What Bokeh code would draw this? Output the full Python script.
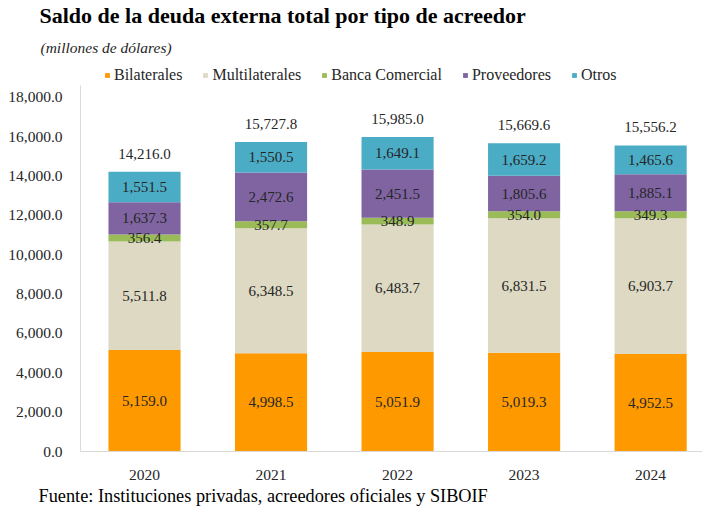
from bokeh.plotting import figure
from bokeh.models import (ColumnDataSource, Range1d, FixedTicker, NumeralTickFormatter,
                          Title, Legend, LegendItem, LabelSet)
from bokeh.embed import file_html
from bokeh.resources import INLINE

years = ["2020", "2021", "2022", "2023", "2024"]
bilaterales = [5159.0, 4998.5, 5051.9, 5019.3, 4952.5]
multilaterales = [5511.8, 6348.5, 6483.7, 6831.5, 6903.7]
banca = [356.4, 357.7, 348.9, 354.0, 349.3]
proveedores = [1637.3, 2472.6, 2451.5, 1805.6, 1885.1]
otros = [1551.5, 1550.5, 1649.1, 1659.2, 1465.6]
totales = [14216.0, 15727.8, 15985.0, 15669.6, 15556.2]
series_names = ["Bilaterales", "Multilaterales", "Banca Comercial", "Proveedores", "Otros"]
colors = ["#FF9900", "#DDD9C3", "#9BBB59", "#8064A2", "#4BACC6"]
y_ticks = [0, 2000, 4000, 6000, 8000, 10000, 12000, 14000, 16000, 18000]

FONT = "Liberation Serif"
TXT = "#262626"

keys = ["bil", "mul", "ban", "pro", "otr"]
data = {"x": list(range(len(years))), "year": years}
for k, s in zip(keys, [bilaterales, multilaterales, banca, proveedores, otros]):
    data[k] = s
    data[k + "_lbl"] = [f"{v:,.1f}" for v in s]
bottom = [0.0] * len(years)
for k in keys:
    data[k + "_mid"] = [b + v / 2 for b, v in zip(bottom, data[k])]
    bottom = [b + v for b, v in zip(bottom, data[k])]
data["top"] = bottom
data["tot_lbl"] = [f"{v:,.1f}" for v in totales]
source = ColumnDataSource(data)

p = figure(width=702, height=508, x_range=Range1d(-0.506, 4.41), y_range=Range1d(0, 19669),
           output_backend="svg", toolbar_location=None,
           min_border_left=80, min_border_right=0, min_border_top=62, min_border_bottom=57)
p.outline_line_color = None
p.xgrid.grid_line_color = None
p.ygrid.grid_line_color = None
p.background_fill_color = "white"

rends = p.vbar_stack(keys, x="x", width=0.57, color=colors, source=source, line_color=None)

p.yaxis.ticker = FixedTicker(ticks=y_ticks)
p.yaxis.bounds = (0, 18607)
p.yaxis.formatter = NumeralTickFormatter(format="0,0.0")
p.yaxis.major_tick_line_color = None
p.yaxis.minor_tick_line_color = None
p.yaxis.axis_line_color = "#D9D9D9"
p.yaxis.major_label_standoff = 12
p.yaxis.major_label_text_font = FONT
p.yaxis.major_label_text_font_size = "15.5px"
p.yaxis.major_label_text_color = TXT

p.xaxis.ticker = FixedTicker(ticks=list(range(len(years))))
p.xaxis.major_label_overrides = {i: y for i, y in enumerate(years)}
p.xaxis.major_tick_line_color = None
p.xaxis.minor_tick_line_color = None
p.xaxis.axis_line_color = "#D9D9D9"
p.xaxis.major_label_standoff = 12
p.xaxis.major_label_text_font = FONT
p.xaxis.major_label_text_font_size = "15.5px"
p.xaxis.major_label_text_color = TXT

for k in keys:
    ls = LabelSet(x="x", y=k + "_mid", text=k + "_lbl", source=source,
                  text_align="center", text_baseline="middle",
                  text_font=FONT, text_font_size="15px", text_color=TXT)
    p.add_layout(ls)
tl = LabelSet(x="x", y="top", text="tot_lbl", source=source, y_offset=13,
              text_align="center", text_baseline="alphabetic",
              text_font=FONT, text_font_size="15px", text_color=TXT)
p.add_layout(tl)

legend = Legend(items=[LegendItem(label=n, renderers=[r]) for n, r in zip(series_names, rends)],
                orientation="horizontal", location=(24, 367),
                glyph_width=6, glyph_height=6, label_standoff=4, spacing=20,
                label_height=14, padding=0, margin=0, border_line_color=None,
                background_fill_alpha=0,
                label_text_font=FONT, label_text_font_size="16px", label_text_color=TXT)
p.add_layout(legend, "center")

p.add_layout(Title(text="(millones de dólares)", align="left", offset=-40, standoff=18,
                   text_font=FONT, text_font_size="15.5px", text_font_style="italic",
                   text_color=TXT), "above")
p.add_layout(Title(text="Saldo de la deuda externa total por tipo de acreedor",
                   align="left", offset=-41, standoff=0,
                   text_font=FONT, text_font_size="22px", text_font_style="bold",
                   text_color="#000000"), "above")
p.add_layout(Title(text="Fuente: Instituciones privadas, acreedores oficiales y SIBOIF",
                   align="left", offset=-42, standoff=2,
                   text_font=FONT, text_font_size="18.3px", text_font_style="normal",
                   text_color="#000000"), "below")

open("out.html", "w").write(file_html(p, INLINE))
